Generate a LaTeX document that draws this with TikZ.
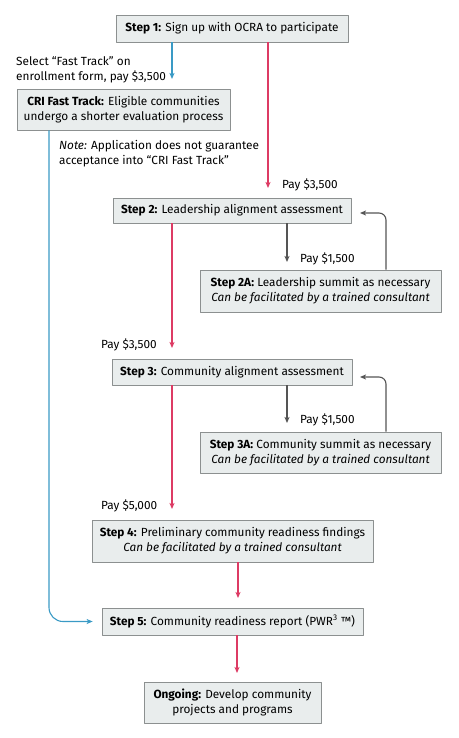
\documentclass[tikz,border=0pt]{standalone}
\usepackage{fontspec}
\setmainfont{Fira Sans}
\usetikzlibrary{arrows.meta}
\definecolor{boxfill}{HTML}{E9EDED}
\definecolor{boxline}{HTML}{8C9090}
\definecolor{cblue}{HTML}{3A9AC5}
\definecolor{cred}{HTML}{DD3B64}
\definecolor{cgrey}{HTML}{555555}
\begin{document}
\begin{tikzpicture}[x=1pt,y=-1pt,>={Stealth[length=6pt,width=5pt,inset=1.5pt]},
    line join=round,font=\fontsize{11.8}{15}\selectfont,
    stepbox/.style={draw=boxline,fill=boxfill,align=center,inner sep=0pt,line width=.7pt},
    bluearrow/.style={->,draw=cblue,line width=1.1pt},
    redarrow/.style={->,draw=cred,line width=1.1pt},
    greyarrow/.style={->,draw=cgrey,line width=1.1pt}]
	\useasboundingbox (0,0) rectangle (458,738);
	% boxes
	\node[stepbox,minimum width=232pt,minimum height=27pt] (s1) at (232,28.5)
	{\textbf{Step 1:} Sign up with OCRA to participate};
	\node[stepbox,minimum width=213pt,minimum height=41pt] (ft) at (123.5,109.5)
	{\textbf{CRI Fast Track:} Eligible communities\\undergo a shorter evaluation process};
	\node[stepbox,minimum width=238pt,minimum height=25pt] (s2) at (232,210.5)
	{\textbf{Step 2:} Leadership alignment assessment};
	\node[stepbox,minimum width=241pt,minimum height=42pt] (s2a) at (320.5,291)
	{\textbf{Step 2A:} Leadership summit as necessary\\\textit{Can be facilitated by a trained consultant}};
	\node[stepbox,minimum width=240pt,minimum height=26pt] (s3) at (232,372)
	{\textbf{Step 3:} Community alignment assessment};
	\node[stepbox,minimum width=241pt,minimum height=41pt] (s3a) at (320.5,452.5)
	{\textbf{Step 3A:} Community summit as necessary\\\textit{Can be facilitated by a trained consultant}};
	\node[stepbox,minimum width=281pt,minimum height=42pt] (s4) at (232.5,541)
	{\textbf{Step 4:} Preliminary community readiness findings\\\textit{Can be facilitated by a trained consultant}};
	\node[stepbox,minimum width=261pt,minimum height=27pt] (s5) at (232.5,621.5)
	{\textbf{Step 5:} Community readiness report (PWR\textsuperscript{3} ™)};
	\node[stepbox,minimum width=177pt,minimum height=41pt] (og) at (232.5,702.5)
	{\textbf{Ongoing:} Develop community\\projects and programs};
	% free texts
	\node[anchor=west,align=left,inner sep=0pt] (sel) at (16,70)
	{Select “Fast Track” on\\enrollment form, pay \$3,500};
	\node[anchor=west,align=left,inner sep=0pt] (note) at (59,154)
	{\textit{Note:} Application does not guarantee\\acceptance into “CRI Fast Track”};
	\foreach \x/\y/\t [count=\i] in {282/185/{3,500},300/259/{1,500},101/345/{3,500},300/420/{1,500},101/506/{5,000}}
	\node[anchor=west,inner sep=0pt] (pay\i) at (\x,\y) {Pay \$\t};
	% arrow ends
	\path
	(172,79) coordinate (b1)
	(49,0) coordinate (bx)
	([xshift=-9pt]s5.west) coordinate (b5)
	(268,188) coordinate (r2)
	(172,348) coordinate (r3)
	(172,509) coordinate (r4)
	(238,598) coordinate (r5)
	(237,673) coordinate (r6)
	(287,262) coordinate (g2)
	(287,423) coordinate (g3)
	(386,213) coordinate (l2x)
	(360,213) coordinate (l2)
	(386,377) coordinate (l3x)
	(360,377) coordinate (l3)
	;
	\draw[bluearrow] (b1 |- s1.south) -- (b1);
	\draw[bluearrow,rounded corners=14pt] (ft.south -| bx) |- (b5);
	\draw[redarrow] (r2 |- s1.south) -- (r2);
	\draw[redarrow] (r3 |- s2.south) -- (r3);
	\draw[redarrow] (r4 |- s3.south) -- (r4);
	\draw[redarrow] (r5 |- s4.south) -- (r5);
	\draw[redarrow] (r6 |- s5.south) -- (r6);
	\draw[greyarrow] (g2 |- s2.south) -- (g2);
	\draw[greyarrow] (g3 |- s3.south) -- (g3);
	\draw[greyarrow,rounded corners=7pt] (l2x |- s2a.north) -- (l2x) -- (l2);
	\draw[greyarrow,rounded corners=7pt] (l3x |- s3a.north) -- (l3x) -- (l3);
\end{tikzpicture}
\end{document}
